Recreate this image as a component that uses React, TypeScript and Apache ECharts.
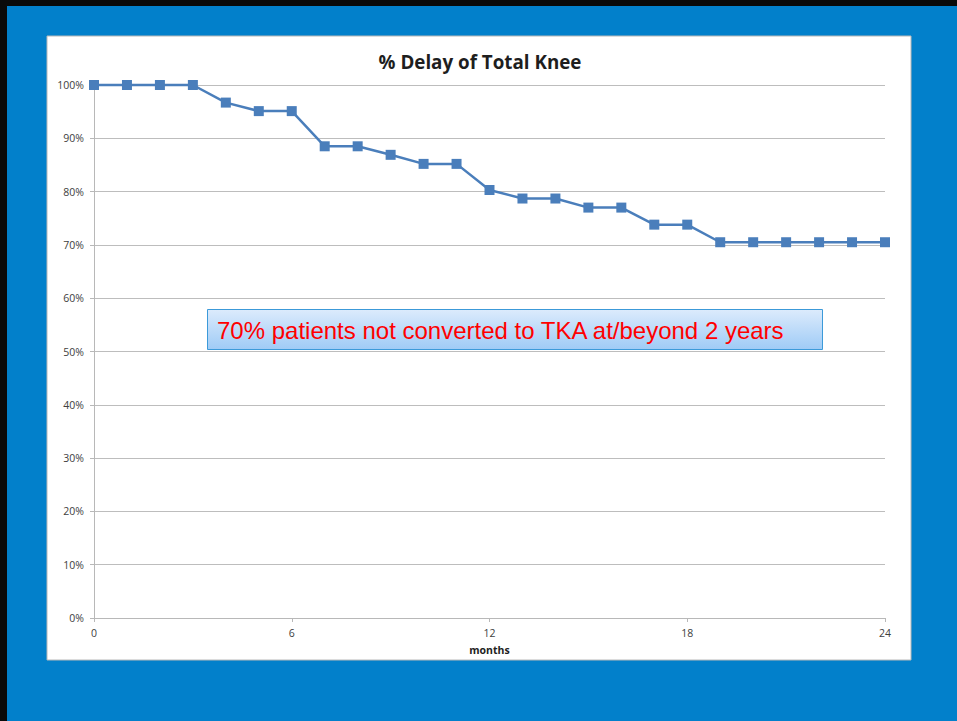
import React, { useEffect, useRef } from "react";
import * as echarts from "echarts";

// Months since treatment and share of knees not yet replaced
const months: number[] = [0, 1, 2, 3, 4, 5, 6, 7, 8, 9, 10, 11, 12, 13, 14, 15, 16, 17, 18, 19, 20, 21, 22, 23, 24];
const delayPct: number[] = [100, 100, 100, 100, 96.7, 95.1, 95.1, 88.5, 88.5, 86.9, 85.2, 85.2, 80.3, 78.7, 78.7, 77.0, 77.0, 73.8, 73.8, 70.5, 70.5, 70.5, 70.5, 70.5, 70.5];

const chartTitle = "% Delay of Total Knee";
const xAxisName = "months";
const noteText = "70% patients not converted to TKA at/beyond 2 years";

const W = 957;
const H = 721;

export default function App() {
  const ref = useRef<HTMLDivElement>(null);

  useEffect(() => {
    if (!ref.current) return;
    const chart = echarts.init(ref.current, null, { renderer: "svg", width: W, height: H });
    const labelFont = "'Open Sans', 'DejaVu Sans', sans-serif";

    chart.setOption({
      animation: false,
      backgroundColor: "#0280cb",
      title: {
        text: chartTitle,
        left: 475,
        top: 47,
        textAlign: "center",
        textStyle: { fontFamily: labelFont, fontSize: 18.8, fontWeight: "bold", color: "#1e1e1e" },
      },
      graphic: [
        { type: "rect", z: -10, shape: { x: 0, y: 0, width: W, height: 6 }, style: { fill: "#0a0a0a" } },
        { type: "rect", z: -10, shape: { x: 0, y: 0, width: 7, height: H }, style: { fill: "#0a0a0a" } },
        {
          type: "rect",
          z: -10,
          shape: { x: 47, y: 36, width: 864, height: 624 },
          style: { fill: "#ffffff", stroke: "#b8b8b8", lineWidth: 1 },
        },
        {
          type: "group",
          z: 100,
          children: [
            {
              type: "rect",
              shape: { x: 207.5, y: 309.5, width: 615, height: 40 },
              style: {
                fill: new echarts.graphic.LinearGradient(0, 0, 0, 1, [
                  { offset: 0, color: "#dcebfc" },
                  { offset: 1, color: "#9fcbf6" },
                ]),
                stroke: "#3c9ad9",
                lineWidth: 1,
              },
            },
            {
              type: "text",
              x: 217,
              y: 330,
              style: {
                text: noteText,
                fill: "#ff0000",
                fontSize: 24,
                fontFamily: "'Liberation Sans', Arial, sans-serif",
                verticalAlign: "middle",
              },
            },
          ],
        },
      ],
      grid: { left: 94, right: 72, top: 85, bottom: 103, containLabel: false },
      xAxis: {
        type: "value",
        min: 0,
        max: 24,
        interval: 6,
        name: xAxisName,
        nameLocation: "middle",
        nameGap: 26,
        nameTextStyle: { fontFamily: labelFont, fontSize: 10.5, fontWeight: "bold", color: "#222" },
        axisLine: { show: true, lineStyle: { color: "#b8b8b8", width: 1 } },
        axisTick: { show: true, length: 4, lineStyle: { color: "#b8b8b8" } },
        axisLabel: { fontFamily: labelFont, fontSize: 10.5, color: "#404040", margin: 9 },
        splitLine: { show: false },
      },
      yAxis: {
        type: "value",
        min: 0,
        max: 100,
        interval: 10,
        axisLine: { show: true, lineStyle: { color: "#b8b8b8", width: 1 } },
        axisTick: { show: true, length: 4, lineStyle: { color: "#b8b8b8" } },
        axisLabel: {
          fontFamily: labelFont,
          fontSize: 10.5,
          color: "#404040",
          margin: 10,
          formatter: (v: number) => `${v}%`,
        },
        splitLine: { show: true, lineStyle: { color: "#bdbdbd", width: 1 } },
      },
      series: [
        {
          type: "line",
          data: months.map((m, i) => [m, delayPct[i]]),
          symbol: "rect",
          symbolSize: 10,
          lineStyle: { color: "#4a7ebb", width: 2.5 },
          itemStyle: { color: "#4a7ebb" },
          clip: false,
        },
      ],
    });

    return () => chart.dispose();
  }, []);

  return <div ref={ref} style={{ position: "fixed", left: 0, top: 0, width: W, height: H }} />;
}
